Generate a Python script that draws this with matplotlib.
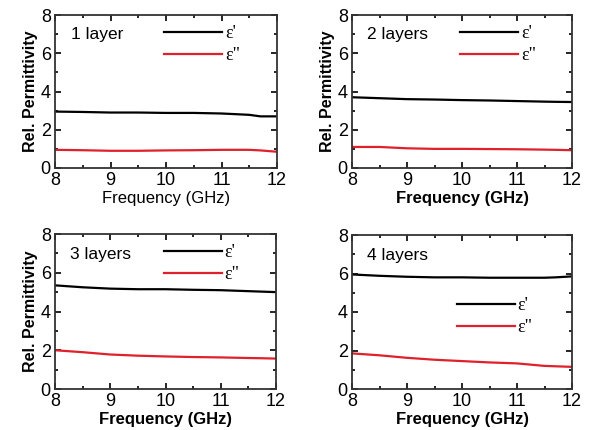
import numpy as np
import matplotlib
matplotlib.use("Agg")
from matplotlib import pyplot as plt
from matplotlib.ticker import MultipleLocator

plt.rcParams['font.family'] = ['Liberation Sans', 'DejaVu Sans']

# GHz
freq = [8.0, 8.5, 9.0, 9.5, 10.0, 10.5, 11.0, 11.5, 11.7, 12.0]

eps_real_1 = [2.95, 2.93, 2.90, 2.90, 2.88, 2.88, 2.85, 2.78, 2.70, 2.70]
eps_imag_1 = [0.95, 0.93, 0.90, 0.90, 0.92, 0.93, 0.95, 0.95, 0.92, 0.85]

eps_real_2 = [3.70, 3.65, 3.60, 3.58, 3.55, 3.53, 3.50, 3.47, 3.46, 3.45]
eps_imag_2 = [1.10, 1.10, 1.03, 1.00, 1.00, 0.99, 0.98, 0.96, 0.95, 0.93]

eps_real_3 = [5.35, 5.25, 5.18, 5.15, 5.15, 5.12, 5.10, 5.05, 5.03, 5.00]
eps_imag_3 = [2.00, 1.90, 1.78, 1.72, 1.68, 1.65, 1.63, 1.60, 1.59, 1.57]

eps_real_4 = [5.95, 5.88, 5.83, 5.80, 5.80, 5.78, 5.78, 5.78, 5.80, 5.85]
eps_imag_4 = [1.85, 1.75, 1.62, 1.52, 1.45, 1.38, 1.33, 1.20, 1.18, 1.15]

labels = ["1 layer", "2 layers", "3 layers", "4 layers"]
real_sets = [eps_real_1, eps_real_2, eps_real_3, eps_real_4]
imag_sets = [eps_imag_1, eps_imag_2, eps_imag_3, eps_imag_4]

W, H = 590, 430
fig = plt.figure(figsize=(W / 100, H / 100), dpi=100)

# axes boxes in pixels: left, top, right, bottom
boxes = [(55, 15, 277, 168), (352, 15, 572, 168),
         (55, 234, 276, 389), (352, 235, 572, 389)]

for i in range(4):
    l, t, r, b = boxes[i]
    ax = fig.add_axes([l / W, 1 - b / H, (r - l) / W, (b - t) / H])
    ax.plot(freq, real_sets[i], color="black", lw=1.6, label="ε'")
    ax.plot(freq, imag_sets[i], color="#e0202a", lw=1.6, label='ε"')
    ax.set_xlim(8, 12)
    ax.set_ylim(0, 8)
    ax.xaxis.set_major_locator(MultipleLocator(1))
    ax.xaxis.set_minor_locator(MultipleLocator(0.5))
    ax.yaxis.set_major_locator(MultipleLocator(2))
    ax.yaxis.set_minor_locator(MultipleLocator(1))
    ax.tick_params(which="both", direction="in", top=True, right=True, labelsize=13, pad=3)
    ax.tick_params(which="major", length=4, width=1.2)
    ax.tick_params(which="minor", length=2.5, width=1.2)
    for s in ax.spines.values():
        s.set_linewidth(1.3)
        s.set_color("#333333")
    ax.set_xlabel("Frequency (GHz)", fontsize=12, fontweight="normal" if i == 0 else "bold", labelpad=1)
    if i < 3:
        ax.set_ylabel("Rel. Permittivity", fontsize=11.5, fontweight="bold", labelpad=2)
    ax.text(0.07, 0.87, labels[i], transform=ax.transAxes, fontsize=12.5, va="center")
    if i == 3:
        leg_pos = (0.445, 0.645)
    else:
        leg_pos = (0.46, 0.98)
    ax.legend(loc="upper left", bbox_to_anchor=leg_pos, frameon=False, handlelength=3.2,
              handletextpad=0.15, labelspacing=0.28, borderaxespad=0,
              prop={"family": "Liberation Serif", "size": 13})

fig.savefig("out.png", dpi=100)
